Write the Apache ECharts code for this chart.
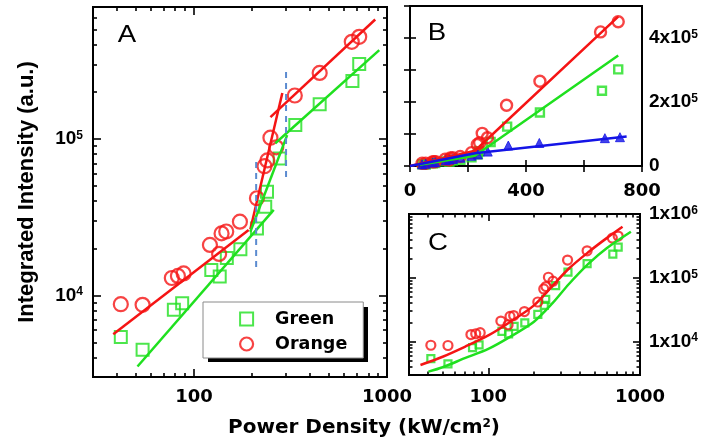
<!DOCTYPE html>
<html>
<head>
<meta charset="utf-8">
<script src="https://cdn.jsdelivr.net/npm/echarts@6/dist/echarts.min.js"></script>
<style>
  html, body { margin: 0; padding: 0; background: #fff; }
  #main { width: 707px; height: 445px; }
</style>
</head>
<body>
<div id="main"></div>
<script>
// Power densities (kW/cm²) and integrated PL intensities (a.u.)
const greenPower = [41.8, 54.2, 78.7, 86.9, 123, 136, 148, 174, 212, 234, 239, 278, 335, 448, 662, 718];
const greenIntensity = [5400, 4480, 8070, 8900, 14500, 13200, 17300, 19700, 26800, 36900, 46000, 75200, 123000, 167000, 235000, 302000];
const orangePower = [41.8, 54.2, 76.8, 82.6, 88.4, 121, 135, 139, 147, 173, 212, 232, 240, 249, 267, 333, 448, 657, 718];
const orangeIntensity = [8770, 8690, 12900, 13300, 13800, 21000, 18400, 24900, 25600, 29600, 41800, 67000, 73000, 102000, 88500, 190000, 265000, 419000, 451000];
const bluePower = [41.8, 54.2, 78.7, 86.9, 123, 136, 148, 174, 212, 234, 268, 339, 446, 672, 724];
const blueIntensity = [5000, 7000, 11000, 12000, 18000, 20000, 22000, 26000, 32000, 36000, 45000, 64000, 72000, 87000, 90000];

// Piecewise power-law fits (log-log panel)
const orangeLowX = [38.2, 192], orangeLowY = [5640, 26200];
const orangeSteepX = [196, 287], orangeSteepY = [26500, 197000];
const orangeHighX = [249, 869], orangeHighY = [138000, 582000];
const greenLowX = [51, 259], greenLowY = [3500, 35200];
const greenSteepX = [196, 304], greenSteepY = [25500, 106000];
const greenHighX = [264, 912], greenHighY = [94000, 371000];
// Threshold markers
const threshold1X = [210, 210], threshold1Y = [15200, 76700];
const threshold2X = [300, 300], threshold2Y = [57200, 289000];

// Linear fits (linear panel)
const orangeLinX = [0, 224, 718], orangeLinY = [0, 47600, 467000];
const greenLinX = [34, 224, 718], greenLinY = [4000, 32000, 345000];
const blueLinX = [0, 224, 747], blueLinY = [0, 40000, 92000];

// Model curves (panel C)
const orangeModelX = [35.7, 50, 70, 100, 140, 200, 265, 340, 460, 600, 767];
const orangeModelY = [4310, 5800, 8300, 12500, 20500, 37000, 75000, 140000, 256000, 415000, 630000];
const greenModelX = [40.3, 50, 70, 100, 140, 200, 265, 340, 460, 600, 871];
const greenModelY = [3390, 3970, 5500, 7700, 12000, 20500, 40000, 80000, 168000, 288000, 526000];

// Ticks
const logPowerMajor = [100, 1000];
const logPowerMinor = [40, 50, 60, 70, 80, 90, 200, 300, 400, 500, 600, 700, 800, 900];
const aIntensityMajor = [10000, 100000];
const aIntensityMinor = [4000, 5000, 6000, 7000, 8000, 9000, 20000, 30000, 40000, 50000, 60000, 70000, 80000, 90000, 200000, 300000, 400000, 500000, 600000, 700000];
const cIntensityMajor = [10000, 100000, 1000000];
const cIntensityMinor = [4000, 5000, 6000, 7000, 8000, 9000, 20000, 30000, 40000, 50000, 60000, 70000, 80000, 90000, 200000, 300000, 400000, 500000, 600000, 700000, 800000, 900000];
const linPowerTicks = [0, 200, 400, 600, 800];
const linPowerLabels = [0, 400, 800];
const linIntensityTicks = [0, 100000, 200000, 300000, 400000, 500000];
const linIntensityLabels = [0, 200000, 400000];

const GREEN = '#1fe01f';
const RED = '#f51414';
const BLUE = '#1414e6';
const DASH = '#5b8bd0';
const BLACK = '#000';
const FONT = '"Liberation Sans", Arial, sans-serif';
const WIDE = '"DejaVu Sans", sans-serif';

const RICH = {
  b: { fontSize: 19, fontWeight: 'bold', fontFamily: FONT, color: BLACK },
  w: { fontSize: 18, fontWeight: 'bold', fontFamily: WIDE, color: BLACK },
  s: { fontSize: 12, fontWeight: 'bold', fontFamily: FONT, color: BLACK, verticalAlign: 'top' }
};

const pairs = (xs, ys) => xs.map((x, i) => [x, ys[i]]);
const exp10 = v => Math.round(Math.log10(v));

function axis(o) {
  const a = {
    type: o.type,
    gridIndex: o.grid,
    position: o.position,
    min: o.min,
    max: o.max,
    axisLine: { show: false },
    splitLine: { show: false },
    axisTick: {
      show: true, inside: true, length: o.len,
      lineStyle: { color: BLACK, width: 1.6 },
      customValues: o.ticks
    },
    axisLabel: { show: false }
  };
  if (o.interval) a.interval = o.interval;
  if (o.format) {
    a.axisLabel = {
      show: true, customValues: o.labels, margin: o.margin,
      formatter: o.format, rich: RICH, color: BLACK
    };
  }
  if (o.name) Object.assign(a, o.name);
  return a;
}

const logX = (grid, pos, ticks, len, format, margin) =>
  axis({ type: 'log', grid, position: pos, min: 30, max: 1000, ticks, len, format, labels: logPowerMajor, margin });

const xAxes = [
  logX(0, 'bottom', logPowerMajor, 8, v => '{w|' + v + '}', 11),
  logX(0, 'bottom', logPowerMinor, 4),
  logX(0, 'top', logPowerMajor, 8),
  logX(0, 'top', logPowerMinor, 4),
  axis({ type: 'value', grid: 1, position: 'bottom', min: 0, max: 800, interval: 200, ticks: linPowerTicks, len: 6,
         labels: linPowerLabels, format: v => '{w|' + v + '}', margin: 16 }),
  axis({ type: 'value', grid: 1, position: 'top', min: 0, max: 800, interval: 200, ticks: linPowerTicks, len: 6 }),
  logX(2, 'bottom', logPowerMajor, 7, v => '{w|' + v + '}', 13),
  logX(2, 'bottom', logPowerMinor, 3.5),
  logX(2, 'top', logPowerMajor, 7),
  logX(2, 'top', logPowerMinor, 3.5)
];

const yAxes = [
  axis({ type: 'log', grid: 0, position: 'left', min: 3000, max: 700000, ticks: aIntensityMajor, len: 8,
         labels: aIntensityMajor, format: v => '{b|10}{s|' + exp10(v) + '}', margin: 10,
         name: { name: 'Integrated Intensity (a.u.)', nameLocation: 'middle', nameGap: 55,
                 nameTextStyle: { fontSize: 22, fontWeight: 'bold', fontFamily: FONT, color: BLACK } } }),
  axis({ type: 'log', grid: 0, position: 'left', min: 3000, max: 700000, ticks: aIntensityMinor, len: 4 }),
  axis({ type: 'log', grid: 0, position: 'right', min: 3000, max: 700000, ticks: aIntensityMajor, len: 8 }),
  axis({ type: 'log', grid: 0, position: 'right', min: 3000, max: 700000, ticks: aIntensityMinor, len: 4 }),
  axis({ type: 'value', grid: 1, position: 'left', min: 0, max: 500000, interval: 100000, ticks: linIntensityTicks, len: 6 }),
  axis({ type: 'value', grid: 1, position: 'right', min: 0, max: 500000, interval: 100000, ticks: linIntensityTicks, len: 6,
         labels: linIntensityLabels, margin: 7,
         format: v => v === 0 ? '{b|0}' : '{b|' + (v / 100000) + 'x10}{s|5}' }),
  axis({ type: 'log', grid: 2, position: 'left', min: 3000, max: 1000000, ticks: cIntensityMajor, len: 7 }),
  axis({ type: 'log', grid: 2, position: 'left', min: 3000, max: 1000000, ticks: cIntensityMinor, len: 3.5 }),
  axis({ type: 'log', grid: 2, position: 'right', min: 3000, max: 1000000, ticks: cIntensityMajor, len: 7,
         labels: cIntensityMajor, margin: 9, format: v => '{b|1x10}{s|' + exp10(v) + '}' }),
  axis({ type: 'log', grid: 2, position: 'right', min: 3000, max: 1000000, ticks: cIntensityMinor, len: 3.5 })
];

function markers(name, xi, yi, xs, ys, symbol, size, color, bw, filled) {
  return {
    type: 'scatter', name, xAxisIndex: xi, yAxisIndex: yi,
    data: pairs(xs, ys), symbol, symbolSize: size, z: 3,
    itemStyle: filled
      ? { color, borderColor: color, borderWidth: 1 }
      : { color: 'rgba(0,0,0,0)', borderColor: color, borderWidth: bw },
    emphasis: { disabled: true }
  };
}

function curve(name, xi, yi, xs, ys, color, width, extra) {
  return Object.assign({
    type: 'line', name, xAxisIndex: xi, yAxisIndex: yi,
    data: pairs(xs, ys), showSymbol: false, symbol: 'none', z: 4,
    lineStyle: { color, width }, emphasis: { disabled: true }
  }, extra || {});
}

const dashed = { lineStyle: { color: DASH, width: 2, type: [6, 5] } };

const series = [
  // Panel A: log-log with piecewise fits
  markers('Green', 0, 0, greenPower, greenIntensity, 'rect', 12, GREEN, 2),
  markers('Orange', 0, 0, orangePower, orangeIntensity, 'circle', 14, RED, 2.2),
  curve('Orange fit low', 0, 0, orangeLowX, orangeLowY, RED, 2.5),
  curve('Orange fit steep', 0, 0, orangeSteepX, orangeSteepY, RED, 2.5),
  curve('Orange fit high', 0, 0, orangeHighX, orangeHighY, RED, 2.5),
  curve('Green fit low', 0, 0, greenLowX, greenLowY, GREEN, 2.5),
  curve('Green fit steep', 0, 0, greenSteepX, greenSteepY, GREEN, 2.5),
  curve('Green fit high', 0, 0, greenHighX, greenHighY, GREEN, 2.5),
  curve('Threshold 1', 0, 0, threshold1X, threshold1Y, DASH, 2, dashed),
  curve('Threshold 2', 0, 0, threshold2X, threshold2Y, DASH, 2, dashed),

  // Panel B: linear scale
  markers('Green', 4, 5, greenPower, greenIntensity, 'rect', 8, GREEN, 2.4),
  markers('Orange', 4, 5, orangePower, orangeIntensity, 'circle', 11, RED, 2.4),
  markers('Blue', 4, 5, bluePower, blueIntensity, 'triangle', 9, BLUE, 1, true),
  curve('Orange linear', 4, 5, orangeLinX, orangeLinY, RED, 2.5),
  curve('Green linear', 4, 5, greenLinX, greenLinY, GREEN, 2.5),
  curve('Blue linear', 4, 5, blueLinX, blueLinY, BLUE, 2.5),

  // Panel C: log-log with model curves
  markers('Green', 6, 8, greenPower, greenIntensity, 'rect', 7, GREEN, 2.2),
  markers('Orange', 6, 8, orangePower, orangeIntensity, 'circle', 9, RED, 2.2),
  curve('Orange model', 6, 8, orangeModelX, orangeModelY, RED, 2.5, { smooth: 0.3 }),
  curve('Green model', 6, 8, greenModelX, greenModelY, GREEN, 2.5, { smooth: 0.3 })
];

const gridBox = { show: true, borderColor: BLACK, borderWidth: 2, backgroundColor: 'rgba(0,0,0,0)', containLabel: false };

const letter = (t, x, y) => ({
  type: 'text', x, y, scaleX: 1.2,
  style: { text: t, fontSize: 23, fontFamily: FONT, fill: BLACK, align: 'center', verticalAlign: 'middle' }
});

const option = {
  animation: false,
  backgroundColor: '#fff',
  textStyle: { fontFamily: FONT },
  grid: [
    Object.assign({ left: 93, top: 7, width: 294, height: 370 }, gridBox),
    Object.assign({ left: 410, top: 6, width: 232, height: 160 }, gridBox),
    Object.assign({ left: 409, top: 214, width: 231, height: 161 }, gridBox)
  ],
  xAxis: xAxes,
  yAxis: yAxes,
  legend: {
    orient: 'vertical',
    left: 203, top: 302,
    z: 6,
    selectedMode: false,
    backgroundColor: '#fff',
    borderColor: '#8a8a8a', borderWidth: 1,
    padding: [8, 16, 5, 36],
    itemWidth: 13, itemHeight: 13, itemGap: 7,
    textStyle: { fontSize: 17.5, fontWeight: 'bold', fontFamily: WIDE, color: BLACK, padding: [0, 0, 0, 17] },
    data: [
      { name: 'Green', icon: 'rect', itemStyle: { color: 'rgba(0,0,0,0)', borderColor: GREEN, borderWidth: 2 } },
      { name: 'Orange', icon: 'circle', itemStyle: { color: 'rgba(0,0,0,0)', borderColor: RED, borderWidth: 2.2 } }
    ]
  },
  graphic: [
    // drop shadow behind the legend box
    { type: 'rect', z: 5, shape: { x: 208, y: 307, width: 160, height: 55 }, style: { fill: BLACK } },
    letter('A', 127, 36),
    letter('B', 437, 34),
    letter('C', 438, 244),
    { type: 'text', x: 364, y: 428, style: {
        text: '{t|Power Density (kW/cm}{u|2}{t|)}', align: 'center', verticalAlign: 'middle',
        rich: {
          t: { fontSize: 20, fontWeight: 'bold', fontFamily: WIDE, fill: BLACK },
          u: { fontSize: 12, fontWeight: 'bold', fontFamily: WIDE, fill: BLACK, verticalAlign: 'top' }
        }
      } }
  ],
  series
};

const chart = echarts.init(document.getElementById('main'));
chart.setOption(option);
</script>
</body>
</html>
